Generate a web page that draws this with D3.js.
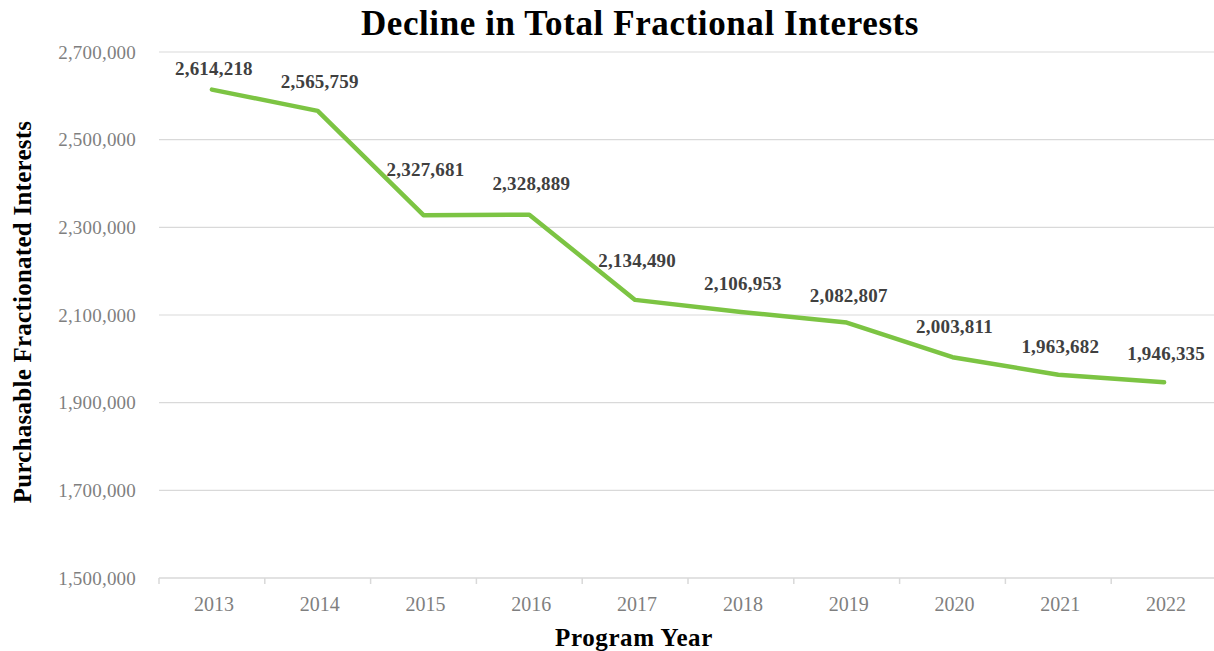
<!DOCTYPE html>
<html>
<head>
<meta charset="utf-8">
<script src="https://cdn.jsdelivr.net/npm/d3@7"></script>
<style>
  html, body { margin: 0; padding: 0; background: #fff; }
  svg { display: block; font-family: "Liberation Serif", "DejaVu Serif", serif; }
</style>
</head>
<body>
<svg id="chart" width="1214" height="651"></svg>
<script>
// Program years and purchasable fractionated interests
const years = ["2013", "2014", "2015", "2016", "2017", "2018", "2019", "2020", "2021", "2022"];
const interests = [2614218, 2565759, 2327681, 2328889, 2134490, 2106953, 2082807, 2003811, 1963682, 1946335];
const yTicks = [1500000, 1700000, 1900000, 2100000, 2300000, 2500000, 2700000];

// Per-label vertical offsets above each point (px)
const labelLift = [15, 23, 39, 25, 33, 22, 21, 24, 22, 22];

const svg = d3.select("#chart");
const W = 1214, H = 651;
const plot = { left: 159, right: 1217, top: 52, bottom: 578 };

const x = d3.scaleBand().domain(years).range([plot.left, plot.right]);
const y = d3.scaleLinear().domain([1500000, 2700000]).range([plot.bottom, plot.top]);
const fmt = d3.format(",");

// Horizontal gridlines
svg.append("g")
  .selectAll("line")
  .data(yTicks.slice(1))
  .join("line")
  .attr("x1", plot.left).attr("x2", W)
  .attr("y1", d => y(d)).attr("y2", d => y(d))
  .attr("stroke", "#d9d9d9").attr("stroke-width", 1.2);

// Y axis labels
const yAxis = svg.append("g")
  .attr("transform", `translate(${plot.left},0)`)
  .call(d3.axisLeft(y).tickValues(yTicks).tickFormat(fmt).tickSize(0).tickPadding(23));
yAxis.select(".domain").remove();
yAxis.selectAll("text")
  .attr("fill", "#7f7f7f")
  .style("font-family", "'Liberation Serif', serif")
  .style("font-size", "19px")
  .style("letter-spacing", "0.2px");

// X axis with category boundary ticks
const xAxis = svg.append("g")
  .attr("transform", `translate(0,${plot.bottom})`);
xAxis.append("line")
  .attr("x1", plot.left).attr("x2", W)
  .attr("y1", 0).attr("y2", 0)
  .attr("stroke", "#d9d9d9").attr("stroke-width", 1.5);
xAxis.selectAll("line.tick")
  .data(years)
  .join("line")
  .attr("class", "tick")
  .attr("x1", d => x(d)).attr("x2", d => x(d))
  .attr("y1", 0).attr("y2", 6)
  .attr("stroke", "#d9d9d9").attr("stroke-width", 1.5);
xAxis.selectAll("text")
  .data(years)
  .join("text")
  .attr("x", d => x(d) + x.bandwidth() / 2 + 2)
  .attr("y", 33)
  .attr("text-anchor", "middle")
  .attr("fill", "#7f7f7f")
  .style("font-size", "20px")
  .text(d => d);

// Data line
const pts = years.map((yr, i) => ({ yr, v: interests[i], lift: labelLift[i] }));
const line = d3.line()
  .x(d => x(d.yr) + x.bandwidth() / 2)
  .y(d => y(d.v));
svg.append("path")
  .datum(pts)
  .attr("d", line)
  .attr("fill", "none")
  .attr("stroke", "#7cc443")
  .attr("stroke-width", 4.5)
  .attr("stroke-linejoin", "round")
  .attr("stroke-linecap", "round");

// Value labels
svg.append("g")
  .selectAll("text")
  .data(pts)
  .join("text")
  .attr("x", d => x(d.yr) + x.bandwidth() / 2 + 2)
  .attr("y", d => y(d.v) - d.lift)
  .attr("text-anchor", "middle")
  .attr("fill", "#404040")
  .style("font-weight", "bold")
  .style("font-size", "19px")
  .style("letter-spacing", "0.2px")
  .text(d => fmt(d.v));

// Title
svg.append("text")
  .attr("x", 640).attr("y", 35)
  .attr("text-anchor", "middle")
  .attr("fill", "#000")
  .style("font-weight", "bold")
  .style("font-size", "35px")
  .style("letter-spacing", "0.6px")
  .text("Decline in Total Fractional Interests");

// Axis titles
svg.append("text")
  .attr("x", 634).attr("y", 646)
  .attr("text-anchor", "middle")
  .attr("fill", "#000")
  .style("font-weight", "bold")
  .style("font-size", "25px")
  .style("letter-spacing", "0.6px")
  .text("Program Year");

svg.append("text")
  .attr("transform", "translate(31,312) rotate(-90)")
  .attr("text-anchor", "middle")
  .attr("fill", "#000")
  .style("font-weight", "bold")
  .style("font-size", "25px")
  .style("letter-spacing", "0.25px")
  .text("Purchasable Fractionated Interests");
</script>
</body>
</html>
